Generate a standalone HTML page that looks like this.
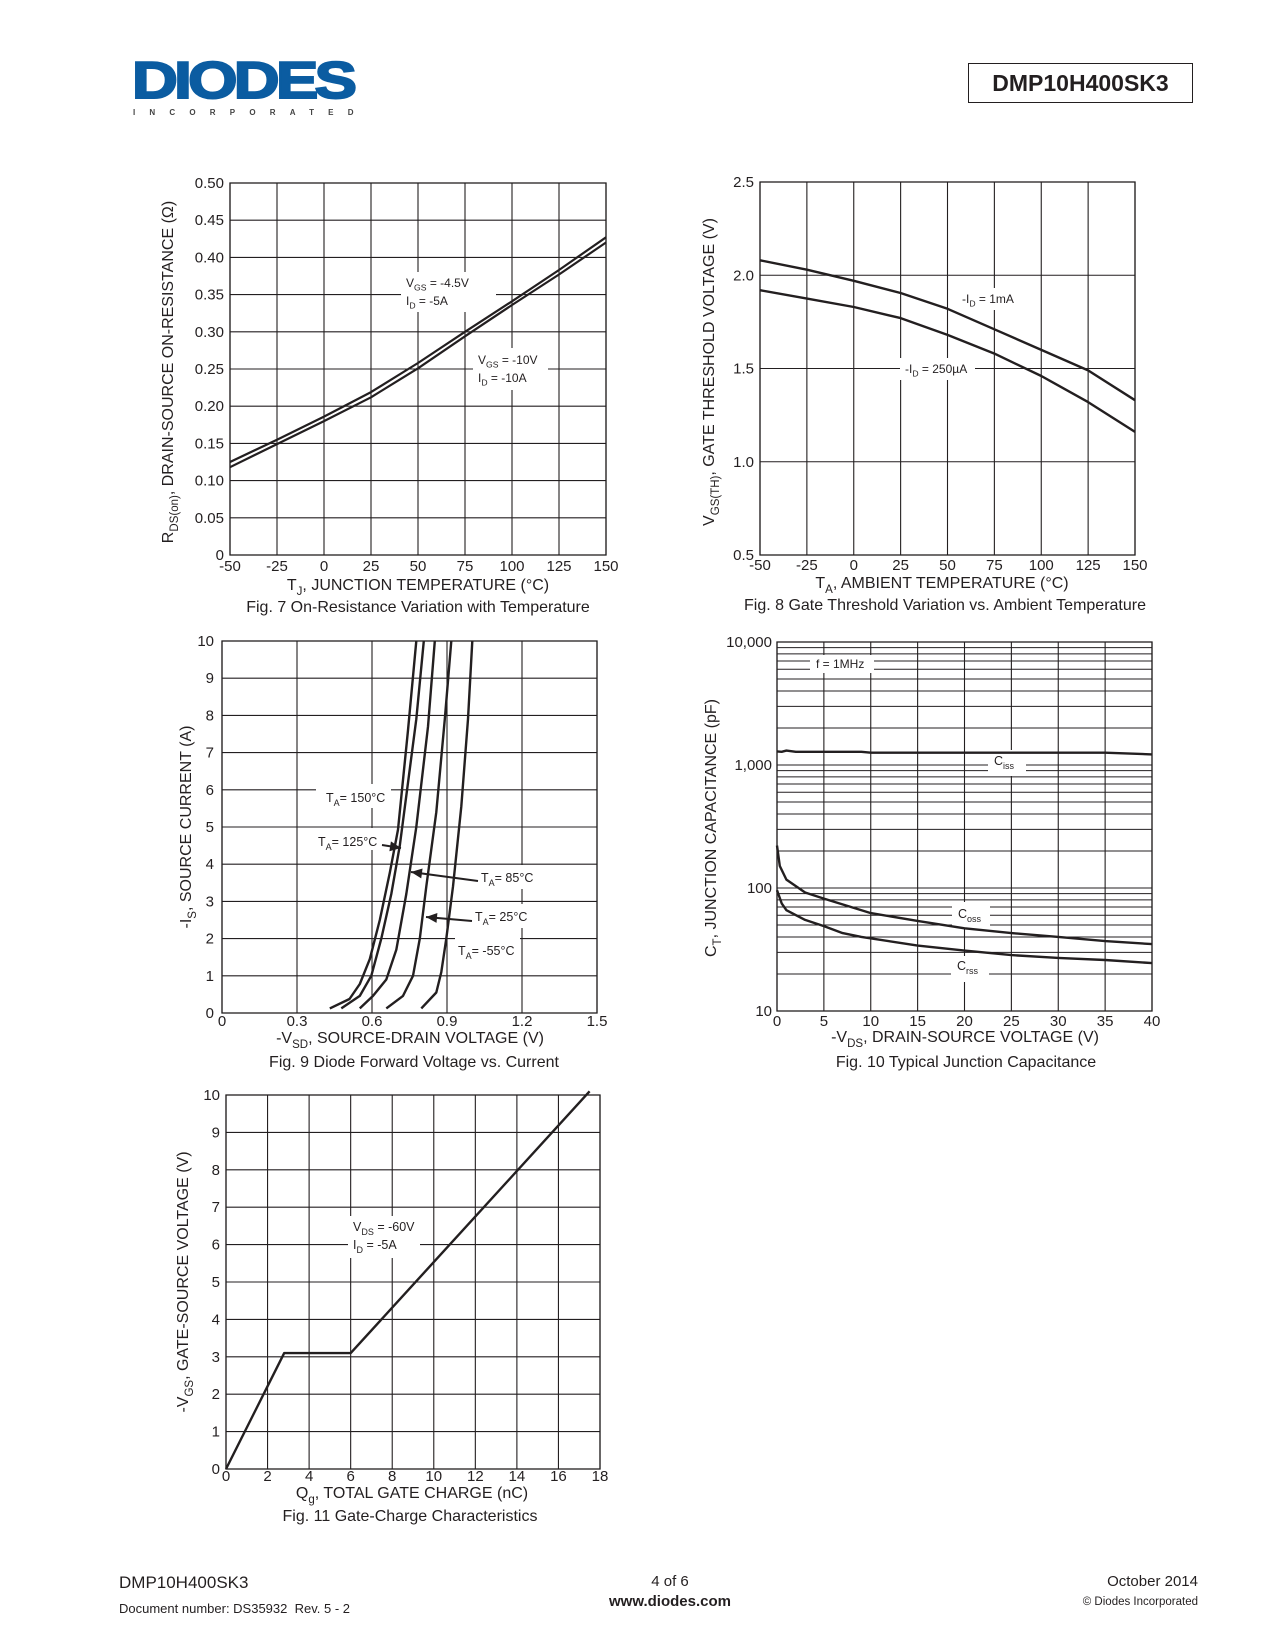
<!DOCTYPE html>
<html><head><meta charset="utf-8">
<style>
html,body{margin:0;padding:0;background:#fff;}
body{width:1275px;height:1650px;position:relative;overflow:hidden;font-family:"Liberation Sans",sans-serif;color:#231f20;}
.abs{position:absolute;}
</style></head>
<body>
<div class="abs" style="left:132px;top:56px;width:230px;height:62px;">
  <div style="position:absolute;left:0;top:0;font:bold 52px 'Liberation Sans',sans-serif;color:#0b5ca1;letter-spacing:-3px;transform:scaleX(1.22);transform-origin:0 0;line-height:50px;-webkit-text-stroke:2px #0b5ca1;">DIODES</div>
  <div style="position:absolute;left:1px;top:52px;font:bold 8px 'Liberation Sans',sans-serif;color:#444;letter-spacing:14.2px;">INCORPORATED</div>
</div>
<div class="abs" style="left:968px;top:63px;width:225px;height:40px;border:1.5px solid #231f20;box-sizing:border-box;font:bold 23px 'Liberation Sans',sans-serif;text-align:center;line-height:38px;">DMP10H400SK3</div>

<svg id="charts" class="abs" style="left:0;top:0" width="1275" height="1650" xmlns="http://www.w3.org/2000/svg"></svg>

<div class="abs" style="left:119px;top:1573px;font-size:17px;">DMP10H400SK3</div>
<div class="abs" style="left:119px;top:1601px;font-size:13px;">Document number: DS35932&nbsp; Rev. 5 - 2</div>
<div class="abs" style="left:570px;width:200px;text-align:center;top:1573px;font-size:15px;">4 of 6</div>
<div class="abs" style="left:570px;width:200px;text-align:center;top:1593px;font-size:15px;font-weight:bold;">www.diodes.com</div>
<div class="abs" style="right:77px;top:1573px;font-size:15px;">October 2014</div>
<div class="abs" style="right:77px;top:1596px;font-size:11.5px;">© Diodes Incorporated</div>

<script>
// ---- Fig 7 data ----
const f7Temps = [-50, -25, 0, 25, 50, 75, 100, 125, 150];
const f7Vgs45 = [0.125, 0.155, 0.186, 0.219, 0.258, 0.300, 0.341, 0.383, 0.427];
const f7Vgs10 = [0.118, 0.149, 0.180, 0.212, 0.251, 0.294, 0.336, 0.377, 0.420];
const f7XTicks = [-50, -25, 0, 25, 50, 75, 100, 125, 150];
const f7YTicks = ["0", "0.05", "0.10", "0.15", "0.20", "0.25", "0.30", "0.35", "0.40", "0.45", "0.50"];
// ---- Fig 8 data ----
const f8Temps = [-50, -25, 0, 25, 50, 75, 100, 125, 150];
const f8Id1mA = [2.08, 2.03, 1.97, 1.905, 1.82, 1.71, 1.60, 1.49, 1.33];
const f8Id250 = [1.92, 1.875, 1.83, 1.77, 1.68, 1.58, 1.46, 1.32, 1.16];
const f8XTicks = [-50, -25, 0, 25, 50, 75, 100, 125, 150];
const f8YTicks = ["0.5", "1.0", "1.5", "2.0", "2.5"];
// ---- Fig 9 data ----
const f9T150V = [0.431, 0.51, 0.551, 0.591, 0.631, 0.671, 0.704, 0.744, 0.777];
const f9T150I = [0.125, 0.375, 0.78, 1.45, 2.5, 3.77, 4.93, 7.6, 10];
const f9T125V = [0.477, 0.551, 0.597, 0.637, 0.677, 0.711, 0.777, 0.807];
const f9T125I = [0.125, 0.46, 1.0, 2.0, 3.2, 4.5, 7.9, 10];
const f9T85V = [0.551, 0.604, 0.657, 0.697, 0.737, 0.777, 0.824, 0.851];
const f9T85I = [0.125, 0.46, 0.9, 1.7, 3.2, 5.0, 7.7, 10];
const f9T25V = [0.657, 0.724, 0.764, 0.791, 0.817, 0.857, 0.891, 0.917];
const f9T25I = [0.125, 0.46, 1.0, 2.0, 3.4, 5.4, 7.9, 10];
const f9Tm55V = [0.797, 0.857, 0.877, 0.897, 0.924, 0.957, 0.984, 1.001];
const f9Tm55I = [0.125, 0.55, 1.1, 2.0, 3.4, 5.55, 7.9, 10];
const f9XTicks = ["0", "0.3", "0.6", "0.9", "1.2", "1.5"];
const f9YTicks = [0, 1, 2, 3, 4, 5, 6, 7, 8, 9, 10];
// ---- Fig 10 data ----
const f10CissV = [0, 0.5, 1, 2, 9, 10, 35, 40];
const f10Ciss = [1290, 1280, 1310, 1280, 1280, 1260, 1260, 1220];
const f10CossV = [0, 0.3, 1, 3, 5, 10, 15, 20, 25, 30, 35, 40];
const f10Coss = [221, 151, 117, 92, 82, 62.5, 54, 47, 43, 40, 37, 35];
const f10CrssV = [0, 0.5, 1, 3, 5, 7, 9, 15, 20, 25, 30, 35, 40];
const f10Crss = [96, 75, 66, 55, 49, 43, 40, 34, 31, 28.5, 27, 26, 24.5];
const f10XTicks = [0, 5, 10, 15, 20, 25, 30, 35, 40];
const f10YTicks = ["10", "100", "1,000", "10,000"];
// ---- Fig 11 data ----
const f11Qg = [0, 2.8, 6, 17.5];
const f11Vgs = [0, 3.1, 3.1, 10.1];
const f11XTicks = [0, 2, 4, 6, 8, 10, 12, 14, 16, 18];
const f11YTicks = [0, 1, 2, 3, 4, 5, 6, 7, 8, 9, 10];

const NS = "http://www.w3.org/2000/svg";
const svg = document.getElementById("charts");
function mk(tag, attrs, parent) {
  const e = document.createElementNS(NS, tag);
  for (const k in attrs) e.setAttribute(k, attrs[k]);
  (parent || svg).appendChild(e);
  return e;
}
function linScale(d0, d1, r0, r1) { return v => r0 + (v - d0) / (d1 - d0) * (r1 - r0); }
function logScale(d0, d1, r0, r1) { return v => r0 + (Math.log10(v) - Math.log10(d0)) / (Math.log10(d1) - Math.log10(d0)) * (r1 - r0); }

function frame(g, L, T, R, B) {
  const r = mk("rect", {x: L, y: T, width: R - L, height: B - T, fill: "none", stroke: "#231f20", "stroke-width": 1.3}, g);
  
  
}
function gridLine(g, x1, y1, x2, y2, w) {
  const l = mk("line", {x1, y1, x2, y2, stroke: "#231f20", "stroke-width": w || 1.1}, g);
  
  
}
function text(g, x, y, str, size, anchor, name) {
  const t = mk("text", {x, y, "font-size": size, "text-anchor": anchor || "start", fill: "#231f20", "font-family": "Liberation Sans, sans-serif"}, g);
  t.textContent = str;
  
  
  return t;
}
function subText(g, x, y, parts, size, anchor, name) {
  const t = mk("text", {x, y, "font-size": size, "text-anchor": anchor || "start", fill: "#231f20", "font-family": "Liberation Sans, sans-serif"}, g);
  
  
  parts.forEach(p => {
    const s = mk("tspan", {}, t);
    if (p[1]) { s.setAttribute("font-size", size * 0.72); s.setAttribute("dy", size * 0.3); }
    else if (p[2]) { s.setAttribute("dy", -size * 0.3); }
    s.textContent = p[0];
  });
  return t;
}
function labelBox(g, x, y, w, h) {
  const r = mk("rect", {x, y, width: w, height: h, fill: "#fff"}, g);
  
  
}
function curve(g, xs, ys, sx, sy, name, w) {
  const d = xs.map((v, i) => (i ? "L" : "M") + sx(v).toFixed(1) + "," + sy(ys[i]).toFixed(1)).join("");
  const p = mk("path", {d, fill: "none", stroke: "#231f20", "stroke-width": w || 2.4, "stroke-linejoin": "round"}, g);
  
  
}
function arrow(g, x1, y1, x2, y2, name) {
  const l = mk("line", {x1, y1, x2, y2, stroke: "#231f20", "stroke-width": 2}, g);
  
  
  const a = Math.atan2(y2 - y1, x2 - x1), L = 11, W = 5;
  const bx = x2 - L * Math.cos(a), by = y2 - L * Math.sin(a);
  const pts = [[x2, y2], [bx - W * Math.sin(a), by + W * Math.cos(a)], [bx + W * Math.sin(a), by - W * Math.cos(a)]];
  const h = mk("polygon", {points: pts.map(p => p.join(",")).join(" "), fill: "#231f20"}, g);
  
  
}
function group(name) {
  const g = mk("g", {});
  
  
  return g;
}
function rotText(g, x, y, parts, size, name) {
  const t = subText(g, 0, 0, parts, size, "middle", name);
  t.setAttribute("transform", `translate(${x},${y}) rotate(-90)`);
}

// ===== Fig 7 =====
(function () {
  const g = group("fig7-on-resistance-chart");
  const L = 230, R = 606, T = 183, B = 555;
  const sx = linScale(-50, 150, L, R), sy = linScale(0, 0.5, B, T);
  f7XTicks.forEach(v => gridLine(g, sx(v), T, sx(v), B));
  f7YTicks.forEach(v => gridLine(g, L, sy(+v), R, sy(+v)));
  frame(g, L, T, R, B);
  labelBox(g, 401, 272, 95, 40);
  labelBox(g, 473, 348, 75, 42);
  subText(g, 406, 287, [["V"], ["GS", 1], [" = -4.5V", 0, 1]], 12, "start", "fig7-label-vgs45");
  subText(g, 406, 305, [["I"], ["D", 1], [" = -5A", 0, 1]], 12, "start", "fig7-label-id5");
  subText(g, 478, 364, [["V"], ["GS", 1], [" = -10V", 0, 1]], 12, "start", "fig7-label-vgs10");
  subText(g, 478, 382, [["I"], ["D", 1], [" = -10A", 0, 1]], 12, "start", "fig7-label-id10");
  curve(g, f7Temps, f7Vgs45, sx, sy, "fig7-curve-vgs-4.5v", 2.2);
  curve(g, f7Temps, f7Vgs10, sx, sy, "fig7-curve-vgs-10v", 2.2);
  f7XTicks.forEach(v => text(g, sx(v), B + 16, String(v), 15, "middle", "fig7-x-tick"));
  f7YTicks.forEach(v => text(g, L - 6, sy(+v) + 5, v, 15, "end", "fig7-y-tick"));
  subText(g, 418, 590, [["T"], ["J", 1], [", JUNCTION TEMPERATURE (°C)", 0, 1]], 16, "middle", "fig7-x-axis-title");
  text(g, 418, 612, "Fig. 7 On-Resistance Variation with Temperature", 16, "middle", "fig7-caption");
  rotText(g, 173, 372, [["R"], ["DS(on)", 1], [", DRAIN-SOURCE ON-RESISTANCE (Ω)", 0, 1]], 16, "fig7-y-axis-title");
})();

// ===== Fig 8 =====
(function () {
  const g = group("fig8-gate-threshold-chart");
  const L = 760, R = 1135, T = 182, B = 555;
  const sx = linScale(-50, 150, L, R), sy = linScale(0.5, 2.5, B, T);
  f8XTicks.forEach(v => gridLine(g, sx(v), T, sx(v), B));
  f8YTicks.forEach(v => gridLine(g, L, sy(+v), R, sy(+v)));
  frame(g, L, T, R, B);
  labelBox(g, 955, 288, 62, 22);
  labelBox(g, 900, 358, 75, 22);
  subText(g, 962, 303, [["-I"], ["D", 1], [" = 1mA", 0, 1]], 12, "start", "fig8-label-1ma");
  subText(g, 905, 373, [["-I"], ["D", 1], [" = 250µA", 0, 1]], 12, "start", "fig8-label-250ua");
  curve(g, f8Temps, f8Id1mA, sx, sy, "fig8-curve-1ma");
  curve(g, f8Temps, f8Id250, sx, sy, "fig8-curve-250ua");
  f8XTicks.forEach(v => text(g, sx(v), B + 15, String(v), 15, "middle", "fig8-x-tick"));
  f8YTicks.forEach(v => text(g, L - 6, sy(+v) + 5, v, 15, "end", "fig8-y-tick"));
  subText(g, 942, 588, [["T"], ["A", 1], [", AMBIENT TEMPERATURE (°C)", 0, 1]], 16, "middle", "fig8-x-axis-title");
  text(g, 945, 610, "Fig. 8 Gate Threshold Variation vs. Ambient Temperature", 16, "middle", "fig8-caption");
  rotText(g, 714, 372, [["V"], ["GS(TH)", 1], [", GATE THRESHOLD VOLTAGE (V)", 0, 1]], 16, "fig8-y-axis-title");
})();

// ===== Fig 9 =====
(function () {
  const g = group("fig9-diode-forward-chart");
  const L = 222, R = 597, T = 641, B = 1013;
  const sx = linScale(0, 1.5, L, R), sy = linScale(0, 10, B, T);
  f9XTicks.forEach(v => gridLine(g, sx(+v), T, sx(+v), B));
  f9YTicks.forEach(v => gridLine(g, L, sy(v), R, sy(v)));
  frame(g, L, T, R, B);
  labelBox(g, 316, 784, 75, 24);
  labelBox(g, 316, 828, 65, 22);
  labelBox(g, 478, 865, 60, 24);
  labelBox(g, 472, 904, 60, 24);
  labelBox(g, 455, 938, 65, 24);
  curve(g, f9T150V, f9T150I, sx, sy, "fig9-curve-150c");
  curve(g, f9T125V, f9T125I, sx, sy, "fig9-curve-125c");
  curve(g, f9T85V, f9T85I, sx, sy, "fig9-curve-85c");
  curve(g, f9T25V, f9T25I, sx, sy, "fig9-curve-25c");
  curve(g, f9Tm55V, f9Tm55I, sx, sy, "fig9-curve-minus55c");
  subText(g, 326, 802, [["T"], ["A", 1], ["= 150°C", 0, 1]], 12.5, "start", "fig9-label-150c");
  subText(g, 318, 846, [["T"], ["A", 1], ["= 125°C", 0, 1]], 12.5, "start", "fig9-label-125c");
  subText(g, 481, 882, [["T"], ["A", 1], ["= 85°C", 0, 1]], 12.5, "start", "fig9-label-85c");
  subText(g, 475, 921, [["T"], ["A", 1], ["= 25°C", 0, 1]], 12.5, "start", "fig9-label-25c");
  subText(g, 458, 955, [["T"], ["A", 1], ["= -55°C", 0, 1]], 12.5, "start", "fig9-label-minus55c");
  arrow(g, 382, 845, 401, 848, "fig9-arrow-125c");
  arrow(g, 478, 881, 411, 872, "fig9-arrow-85c");
  arrow(g, 472, 921, 426, 917, "fig9-arrow-25c");
  f9XTicks.forEach(v => text(g, sx(+v), B + 13, v, 15, "middle", "fig9-x-tick"));
  f9YTicks.forEach(v => text(g, L - 8, sy(v) + 5, String(v), 15, "end", "fig9-y-tick"));
  subText(g, 410, 1043, [["-V"], ["SD", 1], [", SOURCE-DRAIN VOLTAGE (V)", 0, 1]], 16, "middle", "fig9-x-axis-title");
  text(g, 414, 1067, "Fig. 9 Diode Forward Voltage vs. Current", 16, "middle", "fig9-caption");
  rotText(g, 191, 827, [["-I"], ["S", 1], [", SOURCE CURRENT (A)", 0, 1]], 16, "fig9-y-axis-title");
})();

// ===== Fig 10 =====
(function () {
  const g = group("fig10-junction-capacitance-chart");
  const L = 777, R = 1152, T = 642, B = 1011;
  const sx = linScale(0, 40, L, R), sy = logScale(10, 10000, B, T);
  f10XTicks.forEach(v => gridLine(g, sx(v), T, sx(v), B));
  [10, 100, 1000].forEach(dec => { for (let m = 1; m <= 10; m++) gridLine(g, L, sy(dec * m), R, sy(dec * m), 1); });
  frame(g, L, T, R, B);
  labelBox(g, 810, 655, 64, 18);
  labelBox(g, 988, 750, 38, 26);
  labelBox(g, 952, 902, 38, 26);
  labelBox(g, 951, 956, 38, 26);
  text(g, 816, 668, "f = 1MHz", 12, "start", "fig10-label-frequency");
  subText(g, 994, 765, [["C"], ["iss", 1]], 12.5, "start", "fig10-label-ciss");
  subText(g, 958, 918, [["C"], ["oss", 1]], 12.5, "start", "fig10-label-coss");
  subText(g, 957, 970, [["C"], ["rss", 1]], 12.5, "start", "fig10-label-crss");
  curve(g, f10CissV, f10Ciss, sx, sy, "fig10-curve-ciss");
  curve(g, f10CossV, f10Coss, sx, sy, "fig10-curve-coss");
  curve(g, f10CrssV, f10Crss, sx, sy, "fig10-curve-crss");
  f10XTicks.forEach(v => text(g, sx(v), B + 15, String(v), 15, "middle", "fig10-x-tick"));
  f10YTicks.forEach((v, i) => text(g, L - 5, sy(Math.pow(10, i + 1)) + 5, v, 15, "end", "fig10-y-tick"));
  subText(g, 965, 1042, [["-V"], ["DS", 1], [", DRAIN-SOURCE VOLTAGE (V)", 0, 1]], 16, "middle", "fig10-x-axis-title");
  text(g, 966, 1067, "Fig. 10 Typical Junction Capacitance", 16, "middle", "fig10-caption");
  rotText(g, 716, 828, [["C"], ["T", 1], [", JUNCTION CAPACITANCE (pF)", 0, 1]], 16, "fig10-y-axis-title");
})();

// ===== Fig 11 =====
(function () {
  const g = group("fig11-gate-charge-chart");
  const L = 226, R = 600, T = 1095, B = 1469;
  const sx = linScale(0, 18, L, R), sy = linScale(0, 10, B, T);
  f11XTicks.forEach(v => gridLine(g, sx(v), T, sx(v), B));
  f11YTicks.forEach(v => gridLine(g, L, sy(v), R, sy(v)));
  frame(g, L, T, R, B);
  labelBox(g, 348, 1216, 72, 42);
  subText(g, 353, 1231, [["V"], ["DS", 1], [" = -60V", 0, 1]], 12.5, "start", "fig11-label-vds");
  subText(g, 353, 1249, [["I"], ["D", 1], [" = -5A", 0, 1]], 12.5, "start", "fig11-label-id");
  curve(g, f11Qg, f11Vgs, sx, sy, "fig11-curve-vgs");
  f11XTicks.forEach(v => text(g, sx(v), B + 12, String(v), 15, "middle", "fig11-x-tick"));
  f11YTicks.forEach(v => text(g, L - 6, sy(v) + 5, String(v), 15, "end", "fig11-y-tick"));
  subText(g, 412, 1498, [["Q"], ["g", 1], [", TOTAL GATE CHARGE (nC)", 0, 1]], 16, "middle", "fig11-x-axis-title");
  text(g, 410, 1521, "Fig. 11 Gate-Charge Characteristics", 16, "middle", "fig11-caption");
  rotText(g, 188, 1282, [["-V"], ["GS", 1], [", GATE-SOURCE VOLTAGE (V)", 0, 1]], 16, "fig11-y-axis-title");
})();
</script>
</body></html>
